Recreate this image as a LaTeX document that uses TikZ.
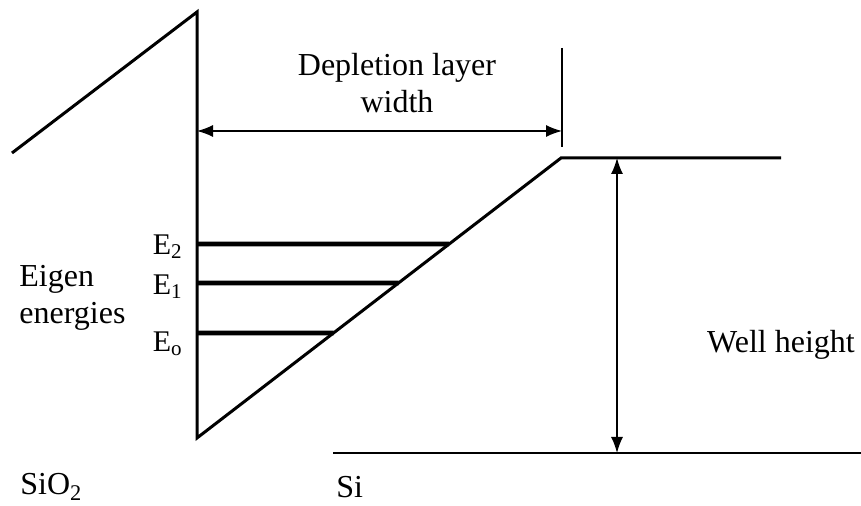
\documentclass[tikz,border=0pt]{standalone}
\usepackage{fontspec}
\setmainfont{Liberation Serif}
\usetikzlibrary{positioning}
\usetikzlibrary{calc}
\usetikzlibrary{arrows.meta}

\begin{document}
\begin{tikzpicture}[
  x=0.5pt,
  y=-0.5pt,
  >={Latex[length=8pt,width=6pt]},
  band/.style={
      line width=1.5pt,
      line join=miter
  },
  level/.style={
      line width=2.4pt
  },
  dim/.style={
      line width=0.7pt
  },
  lbl/.style={
      font=\fontsize{16}{18.5}\selectfont,
      inner sep=0pt
  },
  elbl/.style={
      font=\fontsize{15}{17}\selectfont,
      inner sep=0pt
  }
]
\useasboundingbox (0,0) rectangle (861,506);

% band edges
\coordinate (ox) at (12,153);
\coordinate (top) at (197,12);
\coordinate (tip) at (197,438);
\coordinate (knee) at (561,158);
\coordinate (flat) at (781,158);
\coordinate (base) at (333,453);
\coordinate (baseend) at (861,453);

\draw[band] (ox) -- (top) -- (tip) -- (knee) -- (flat);
\draw[line width=1.2pt] (base) -- (baseend);

% eigen levels
\coordinate (e2) at (197,244);
\coordinate (e1) at (197,283);
\coordinate (e0) at (197,333);
\coordinate (e2e) at (e2 -| flat);
\coordinate (e1e) at (e1 -| flat);
\coordinate (e0e) at (e0 -| flat);
\draw[level] (e2) -- (intersection of tip--knee and e2--e2e);
\draw[level] (e1) -- (intersection of tip--knee and e1--e1e);
\draw[level] (e0) -- (intersection of tip--knee and e0--e0e);

\node[elbl, anchor=east] (E2) at (183,247) {E\textsubscript{2}};
\node[elbl, anchor=east] (E1) at (183,287) {E\textsubscript{1}};
\node[elbl, anchor=east] (E0) at (183,344) {E\textsubscript{o}};

% depletion layer width
\coordinate (dl) at (197,131);
\coordinate (tickt) at (562,48);
\coordinate (tickb) at (562,147);
\draw[dim] (tickt) -- (tickb);
\draw[dim,<->] (dl) -- (dl -| tickb);
\node[lbl, align=center] (depl) at (397,83) {Depletion layer\\width};

% well height
\coordinate (wt) at (617,158);
\coordinate (wb) at (617,453);
\draw[dim,<->] (wt) -- (wb);
\node[lbl] (well) at (781,345) {Well height};

\node[lbl, align=left, anchor=west] (eig) at (19,298) {Eigen\\energies};
\node[lbl, anchor=west] (sio2) at (20,487) {SiO\textsubscript{2}};
\node[lbl, anchor=west] (si) at (336,487) {Si};

\end{tikzpicture}
\end{document}
